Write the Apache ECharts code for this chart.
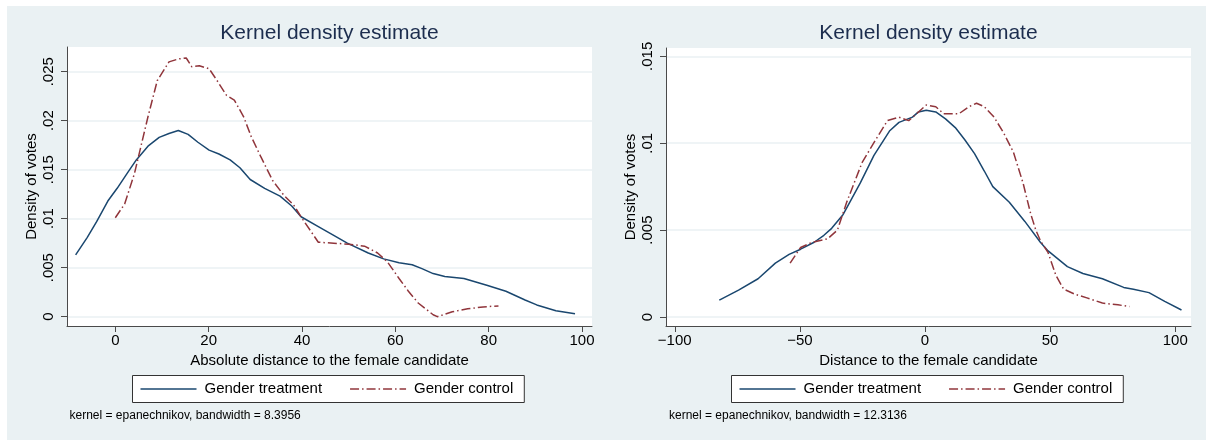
<!DOCTYPE html>
<html><head><meta charset="utf-8">
<script src="https://cdn.jsdelivr.net/npm/echarts@6/dist/echarts.min.js"></script>
<style>html,body{margin:0;padding:0;background:#fff}#c{width:1206px;height:440px}</style>
</head><body><div id="c"></div><script>
// ---- data ----
const seriesNames = ['Gender treatment', 'Gender control'];
const panelTitles = ['Kernel density estimate', 'Kernel density estimate'];
const xTitles = ['Absolute distance to the female candidate', 'Distance to the female candidate'];
const yTitle = 'Density of votes';
const notes = ['kernel = epanechnikov, bandwidth = 8.3956', 'kernel = epanechnikov, bandwidth = 12.3136'];

const leftXTicks = [0, 20, 40, 60, 80, 100];
const leftYTicks = [0, 0.005, 0.01, 0.015, 0.02, 0.025];
const leftYLabels = ['0', '.005', '.01', '.015', '.02', '.025'];
const rightXTicks = [-100, -50, 0, 50, 100];
const rightXLabels = ['\u2212100', '\u221250', '0', '50', '100'];
const rightYTicks = [0, 0.005, 0.01, 0.015];
const rightYLabels = ['0', '.005', '.01', '.015'];

const leftTreatX = [-8.5, -6, -4, -1.6, 0.4, 2.5, 4.5, 7, 9.4, 11.5, 13.5, 15.6, 17.7, 20.1, 22.2, 24.6, 26.7, 28.9, 32, 35.3, 37.8, 39.8, 43.5, 46.8, 49.7, 54.2, 57.5, 60.8, 63.6, 65.7, 68.1, 70.6, 74.7, 79.6, 83.7, 87.8, 90.3, 94.4, 98.5];
const leftTreatY = [0.0063, 0.0081, 0.0097, 0.0118, 0.0131, 0.0146, 0.016, 0.0174, 0.0183, 0.0187, 0.019, 0.0186, 0.0178, 0.017, 0.0166, 0.016, 0.0152, 0.014, 0.0131, 0.0123, 0.0113, 0.0102, 0.0092, 0.0083, 0.0075, 0.0065, 0.0059, 0.0055, 0.0053, 0.0049, 0.0044, 0.0041, 0.0039, 0.0032, 0.0026, 0.0017, 0.0012, 0.0006, 0.0003];

const leftCtrlX = [0, 2, 4.1, 7, 9, 11.5, 13.5, 15.2, 16.4, 18, 20.1, 21.8, 23.8, 25.5, 27.5, 29.1, 31.2, 33.7, 36.1, 38.2, 40.2, 43.5, 46.8, 50, 53.4, 56.2, 58.3, 60.8, 62.8, 64.9, 68.1, 69, 72.2, 75.5, 78.8, 82.1];
const leftCtrlY = [0.0101, 0.0115, 0.0146, 0.0204, 0.0241, 0.026, 0.0263, 0.0264, 0.0255, 0.0256, 0.0253, 0.0241, 0.0226, 0.0221, 0.0204, 0.0184, 0.0163, 0.0139, 0.0124, 0.0114, 0.0099, 0.0076, 0.0075, 0.0074, 0.0072, 0.0065, 0.0056, 0.0039, 0.0026, 0.0014, 0.0002, 0.0, 0.0005, 0.0008, 0.001, 0.0011];

const rightTreatX = [-82.2, -74.5, -66.7, -59.8, -54.3, -49.7, -44.3, -40.4, -37.3, -32.7, -29.7, -25.9, -20.4, -14.2, -10.4, -5, -2.6, 0.5, 4.3, 8.2, 12.1, 15.9, 19.8, 23.7, 27.1, 33.7, 39.9, 46.1, 49.2, 56.9, 63.1, 70.9, 79.4, 83.3, 89.5, 95.8, 102.5];
const rightTreatY = [0.00097, 0.00154, 0.0022, 0.0031, 0.0036, 0.0039, 0.0043, 0.0047, 0.0051, 0.0059, 0.0067, 0.0077, 0.0093, 0.0107, 0.0112, 0.0115, 0.0118, 0.0119, 0.0118, 0.0114, 0.0109, 0.0102, 0.0094, 0.0084, 0.0075, 0.0066, 0.0055, 0.0043, 0.0038, 0.0029, 0.0025, 0.0022, 0.0017, 0.0016, 0.0014, 0.0009, 0.0004];

const rightCtrlX = [-53.9, -49.7, -45, -38.9, -35, -31.3, -25.1, -19.7, -15, -10.4, -6.5, -2.6, 0.5, 4.3, 7.4, 10.5, 13.6, 17.5, 20.6, 23.7, 27.6, 31.4, 35.3, 39.2, 42.3, 44.3, 46.1, 49.2, 52.3, 55.4, 60.1, 64.7, 70.9, 77.1, 81.7];
const rightCtrlY = [0.0031, 0.004, 0.0043, 0.0045, 0.005, 0.0066, 0.0089, 0.0102, 0.0113, 0.0115, 0.0113, 0.0118, 0.0122, 0.0121, 0.0117, 0.0117, 0.0117, 0.0121, 0.0123, 0.0121, 0.0115, 0.0106, 0.0095, 0.0077, 0.0059, 0.005, 0.0044, 0.0037, 0.0024, 0.0016, 0.0013, 0.0011, 0.0008, 0.0007, 0.0006];

// ---- chart ----
const FONT = '"Liberation Sans", Arial, Helvetica, sans-serif';
const BG = '#eaf1f3';
const AXC = '#4a4a4a';
const BLUE = '#1a476f';
const RED = '#90353b';

function zip(xs, ys) { return xs.map((x, i) => [x, ys[i]]); }
function lab(ticks, labels) {
  return v => { for (let i = 0; i < ticks.length; i++) if (Math.abs(ticks[i] - v) < 1e-9) return labels[i]; return ''; };
}

function xAxis(gi, min, max, ticks, fmt, name) {
  return {
    type: 'value', gridIndex: gi, min: min, max: max,
    axisLine: { show: true, onZero: false, lineStyle: { color: AXC, width: 1 } },
    axisTick: { show: true, customValues: ticks, length: 6, lineStyle: { color: AXC, width: 1 } },
    axisLabel: { customValues: ticks, formatter: fmt, margin: 7, fontSize: 15, color: '#000', fontFamily: FONT },
    splitLine: { show: false },
    name: name, nameLocation: 'middle', nameGap: 24,
    nameTextStyle: { fontSize: 15, color: '#000', fontFamily: FONT }
  };
}
function yAxis(gi, min, max, ticks, fmt) {
  return {
    type: 'value', gridIndex: gi, min: min, max: max,
    axisLine: { show: true, onZero: false, lineStyle: { color: AXC, width: 1 } },
    axisTick: { show: true, customValues: ticks, length: 6, lineStyle: { color: AXC, width: 1 } },
    axisLabel: { customValues: ticks, formatter: fmt, rotate: 90, margin: 11, fontSize: 15, color: '#000', fontFamily: FONT },
    splitLine: { show: true, lineStyle: { color: BG, width: 1.5 } },
    name: yTitle, nameLocation: 'middle', nameGap: 28, nameRotate: 90,
    nameTextStyle: { fontSize: 15, color: '#000', fontFamily: FONT }
  };
}
function legend(left) {
  return {
    data: seriesNames, left: left, top: 375.5, orient: 'horizontal',
    itemWidth: 56, itemHeight: 14, itemGap: 27,
    padding: [6, 11, 6, 7], borderColor: '#333', borderWidth: 1, backgroundColor: '#fff',
    borderRadius: 0,
    itemStyle: { opacity: 0, borderWidth: 0 },
    lineStyle: { width: 2, opacity: 0.75 },
    textStyle: { fontSize: 15, color: '#000', fontFamily: FONT, padding: [0, 0, 0, 3] },
    selectedMode: false
  };
}
function line(name, xi, data, color, dash) {
  return {
    type: 'line', name: name, xAxisIndex: xi, yAxisIndex: xi, data: data,
    symbol: 'none', showSymbol: false, smooth: false, z: 3,
    lineStyle: { color: color, width: 1.5, type: dash || 'solid' },
    itemStyle: { color: color }
  };
}

const DASHDOT = [9, 3, 1.5, 3];
const chart = echarts.init(document.getElementById('c'), null, { renderer: 'canvas' });
chart.setOption({
  animation: false,
  backgroundColor: '#fff',
  graphic: [{ type: 'rect', shape: { x: 7, y: 6, width: 1199, height: 434 }, style: { fill: BG }, z: -100, silent: true }],
  title: [
    { text: panelTitles[0], left: 329.5, top: 23, textAlign: 'center', padding: 0, textStyle: { fontSize: 21, fontWeight: 'normal', color: '#1c2d4e', fontFamily: FONT } },
    { text: panelTitles[1], left: 928.5, top: 23, textAlign: 'center', padding: 0, textStyle: { fontSize: 21, fontWeight: 'normal', color: '#1c2d4e', fontFamily: FONT } },
    { text: notes[0], left: 69.5, top: 410, padding: 0, textStyle: { fontSize: 12, fontWeight: 'normal', color: '#000', fontFamily: FONT } },
    { text: notes[1], left: 669, top: 410, padding: 0, textStyle: { fontSize: 12, fontWeight: 'normal', color: '#000', fontFamily: FONT } }
  ],
  legend: [legend(132.5), legend(731.5)],
  grid: [
    { left: 67, top: 47, width: 525, height: 279, show: true, backgroundColor: '#fff', borderWidth: 0 },
    { left: 666, top: 48, width: 525, height: 278, show: true, backgroundColor: '#fff', borderWidth: 0 }
  ],
  xAxis: [
    xAxis(0, -10.35, 102.14, leftXTicks, v => String(v), xTitles[0]),
    xAxis(1, -103.5, 106.3, rightXTicks, lab(rightXTicks, rightXLabels), xTitles[1])
  ],
  yAxis: [
    yAxis(0, -0.00095, 0.02752, leftYTicks, lab(leftYTicks, leftYLabels)),
    yAxis(1, -0.00052, 0.01548, rightYTicks, lab(rightYTicks, rightYLabels))
  ],
  series: [
    line(seriesNames[0], 0, zip(leftTreatX, leftTreatY), BLUE),
    line(seriesNames[1], 0, zip(leftCtrlX, leftCtrlY), RED, DASHDOT),
    line(seriesNames[0], 1, zip(rightTreatX, rightTreatY), BLUE),
    line(seriesNames[1], 1, zip(rightCtrlX, rightCtrlY), RED, DASHDOT)
  ]
});
</script></body></html>
